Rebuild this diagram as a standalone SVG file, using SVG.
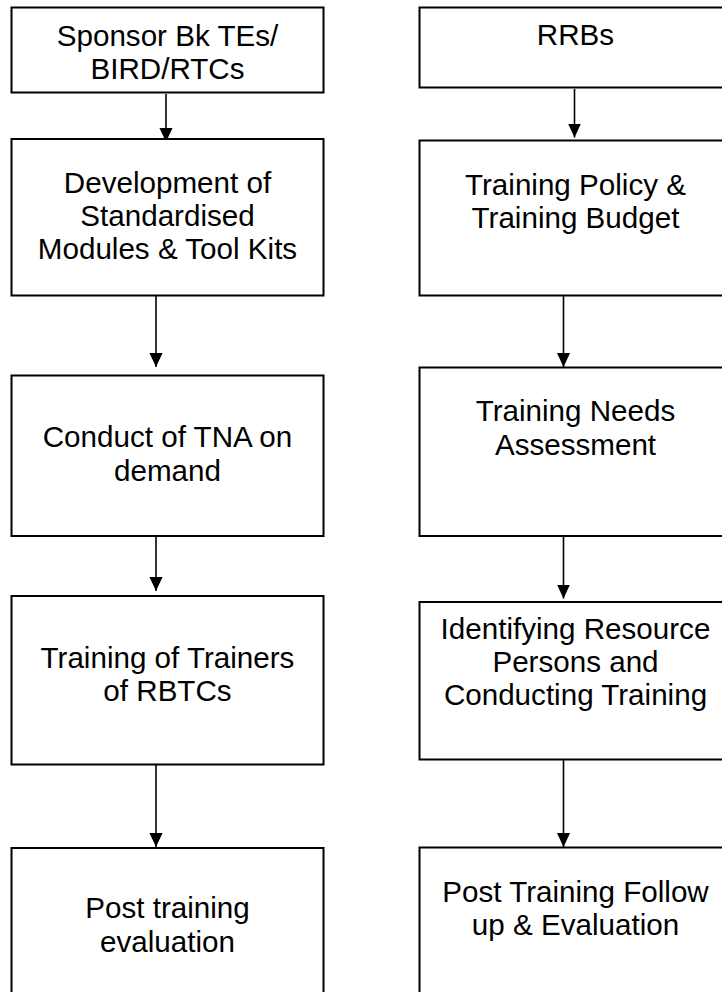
<svg xmlns="http://www.w3.org/2000/svg" width="722" height="992" viewBox="0 0 722 992">
<defs>
<style>
.box{fill:#fff;stroke:#000;stroke-width:2}
.t{font-family:"Liberation Sans",Arial,sans-serif;font-size:29.6px;fill:#000;text-anchor:middle}
.c{stroke:#000;stroke-width:1.6;fill:none}
</style>
<marker id="ah" markerWidth="14" markerHeight="15" viewBox="0 0 15 14" refX="15" refY="7" orient="auto" markerUnits="userSpaceOnUse">
<path d="M0,0 L15,7 L0,14 Z" fill="#000"/>
</marker>
</defs>
<rect width="722" height="992" fill="#fff"/>
<g id="connectors">
<line class="c" x1="166" y1="94" x2="166" y2="142" marker-end="url(#ah)"/>
<line class="c" x1="156" y1="296" x2="156" y2="367" marker-end="url(#ah)"/>
<line class="c" x1="156" y1="537" x2="156" y2="591" marker-end="url(#ah)"/>
<line class="c" x1="156" y1="765" x2="156" y2="847" marker-end="url(#ah)"/>
<line class="c" x1="574.5" y1="89" x2="574.5" y2="137.5" marker-end="url(#ah)"/>
<line class="c" x1="563.5" y1="296" x2="563.5" y2="367" marker-end="url(#ah)"/>
<line class="c" x1="563.5" y1="537" x2="563.5" y2="598.5" marker-end="url(#ah)"/>
<line class="c" x1="563.5" y1="760" x2="563.5" y2="847" marker-end="url(#ah)"/>
</g>
<g id="n1">
<rect class="box" x="11.5" y="7.5" width="312" height="85"/>
<text class="t" x="167.5" y="45.5">Sponsor Bk TEs/</text>
<text class="t" x="167.5" y="79">BIRD/RTCs</text>
</g>
<g id="n2">
<rect class="box" x="11.5" y="139" width="312" height="156.5"/>
<text class="t" x="167.5" y="192.5">Development of</text>
<text class="t" x="167.5" y="225.5">Standardised</text>
<text class="t" x="167.5" y="258.5">Modules &amp; Tool Kits</text>
</g>
<g id="n3">
<rect class="box" x="11.5" y="375.5" width="312" height="160.5"/>
<text class="t" x="167.5" y="447">Conduct of TNA on</text>
<text class="t" x="167.5" y="480.5">demand</text>
</g>
<g id="n4">
<rect class="box" x="11.5" y="596" width="312" height="168.5"/>
<text class="t" x="167.5" y="668">Training of Trainers</text>
<text class="t" x="167.5" y="701">of RBTCs</text>
</g>
<g id="n5">
<rect class="box" x="11.5" y="848" width="312" height="160"/>
<text class="t" x="167.5" y="918">Post training</text>
<text class="t" x="167.5" y="951.5">evaluation</text>
</g>
<g id="r1">
<rect class="box" x="419.5" y="7.5" width="320" height="80"/>
<text class="t" x="575.5" y="44.5">RRBs</text>
</g>
<g id="r2">
<rect class="box" x="419.5" y="140.5" width="320" height="155"/>
<text class="t" x="575.5" y="194.5">Training Policy &amp;</text>
<text class="t" x="575.5" y="227.5">Training Budget</text>
</g>
<g id="r3">
<rect class="box" x="419.5" y="367.5" width="320" height="168.5"/>
<text class="t" x="575.5" y="421">Training Needs</text>
<text class="t" x="575.5" y="454.5">Assessment</text>
</g>
<g id="r4">
<rect class="box" x="419.5" y="602" width="320" height="157.5"/>
<text class="t" x="575.5" y="638.5">Identifying Resource</text>
<text class="t" x="575.5" y="671.5">Persons and</text>
<text class="t" x="575.5" y="705">Conducting Training</text>
</g>
<g id="r5">
<rect class="box" x="419.5" y="847.5" width="320" height="160"/>
<text class="t" x="575.5" y="901.5">Post Training Follow</text>
<text class="t" x="575.5" y="934.5">up &amp; Evaluation</text>
</g>
</svg>
